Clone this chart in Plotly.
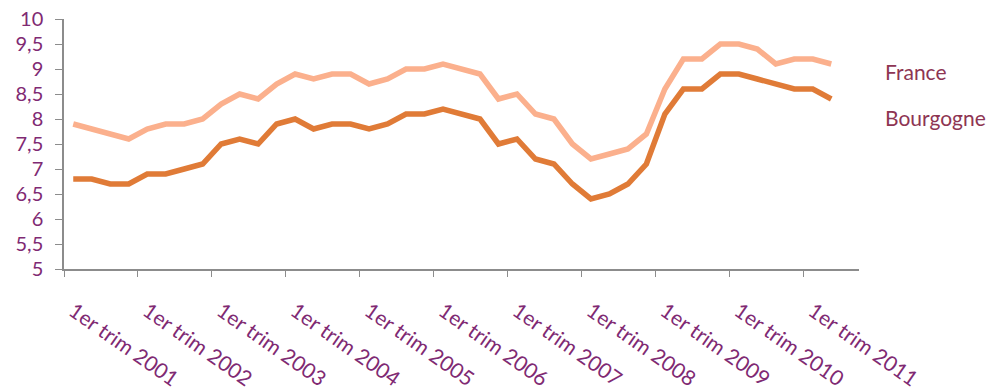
import plotly.graph_objects as go

# Quarterly series, 1st quarter 2001 to 2nd quarter 2011
quarters = [f"T{q} {y}" for y in range(2001, 2012) for q in range(1, 5)][:42]
france = [7.9, 7.8, 7.7, 7.6, 7.8, 7.9, 7.9, 8.0, 8.3, 8.5, 8.4, 8.7, 8.9, 8.8, 8.9,
          8.9, 8.7, 8.8, 9.0, 9.0, 9.1, 9.0, 8.9, 8.4, 8.5, 8.1, 8.0, 7.5, 7.2, 7.3,
          7.4, 7.7, 8.6, 9.2, 9.2, 9.5, 9.5, 9.4, 9.1, 9.2, 9.2, 9.1]
bourgogne = [6.8, 6.8, 6.7, 6.7, 6.9, 6.9, 7.0, 7.1, 7.5, 7.6, 7.5, 7.9, 8.0, 7.8, 7.9,
             7.9, 7.8, 7.9, 8.1, 8.1, 8.2, 8.1, 8.0, 7.5, 7.6, 7.2, 7.1, 6.7, 6.4, 6.5,
             6.7, 7.1, 8.1, 8.6, 8.6, 8.9, 8.9, 8.8, 8.7, 8.6, 8.6, 8.4]
year_labels = [f"1er trim {y}" for y in range(2001, 2012)]
y_ticks = [5, 5.5, 6, 6.5, 7, 7.5, 8, 8.5, 9, 9.5, 10]
y_tick_text = [f"{v:g}".replace(".", ",") for v in y_ticks]

idx = list(range(len(quarters)))
font_family = "Lato, Open Sans, sans-serif"
label_color = "#7F2A73"
axis_grey = "#8C8C8C"

fig = go.Figure()
fig.add_trace(go.Scatter(x=idx, y=france, mode="lines", name="France",
                         line=dict(color="#FBB08D", width=5.5), hovertext=quarters))
fig.add_trace(go.Scatter(x=idx, y=bourgogne, mode="lines", name="Bourgogne",
                         line=dict(color="#E07B37", width=5.5), hovertext=quarters))

fig.update_layout(
    width=991, height=391,
    margin=dict(l=64, r=132, t=19, b=122),
    paper_bgcolor="white", plot_bgcolor="white",
    showlegend=False,
    xaxis=dict(
        range=[-0.5, 42.5],
        automargin=False,
        tickmode="array",
        tickvals=list(range(0, 41, 4)),
        ticktext=year_labels,
        ticks="",
        tickangle=35,
        tickfont=dict(family=font_family, size=21, color=label_color),
        ticklabelstandoff=20,
        showline=True, linecolor=axis_grey, linewidth=1.5,
        showgrid=False, zeroline=False,
        minor=dict(tickmode="array", tickvals=[-0.5 + 4 * k for k in range(11)],
                   ticks="outside", ticklen=6, tickcolor=axis_grey, tickwidth=1.2,
                   showgrid=False),
    ),
    yaxis=dict(
        range=[5, 10],
        automargin=False,
        tickmode="array",
        tickvals=y_ticks,
        ticktext=y_tick_text,
        ticks="outside", ticklen=7, tickcolor=axis_grey, tickwidth=1.2,
        tickfont=dict(family=font_family, size=20, color=label_color),
        ticklabelstandoff=8,
        showline=True, linecolor=axis_grey, linewidth=1.5,
        showgrid=False, zeroline=False,
    ),
)

legend_font = dict(family=font_family, size=21, color="#8E3553")
for name, ypix in (("France", 72), ("Bourgogne", 118)):
    fig.add_annotation(text=name, xref="paper", yref="paper",
                       x=(883 - 64) / (859 - 64), y=(269.3 - ypix) / 250,
                       xanchor="left", yanchor="middle", showarrow=False,
                       font=legend_font)

fig.write_html("out.html")
